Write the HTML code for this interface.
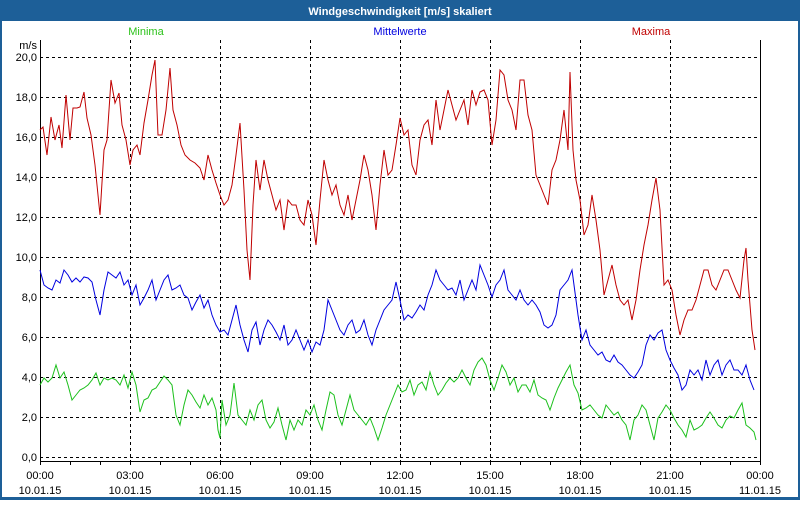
<!DOCTYPE html><html><head><style>body{margin:0;width:800px;height:500px;overflow:hidden;background:#fff;font-family:"Liberation Sans",sans-serif}</style></head><body>
<svg width="800" height="500" xmlns="http://www.w3.org/2000/svg" font-family="Liberation Sans, sans-serif" font-size="11">
<rect x="0" y="0" width="800" height="500" fill="#1d5f98"/>
<rect x="2" y="21" width="796" height="476" fill="#fff"/>
<text x="400" y="15" fill="#fff" font-weight="bold" text-anchor="middle" font-size="11">Windgeschwindigkeit [m/s] skaliert</text>
<g stroke="#000" stroke-dasharray="3,3" stroke-width="1">
<path d="M40 57.5H760M40 97.5H760M40 137.5H760M40 177.5H760M40 217.5H760M40 257.5H760M40 297.5H760M40 337.5H760M40 377.5H760M40 417.5H760M40 457.5H760"/>
<path d="M130.5 40V461M220.5 40V461M310.5 40V461M400.5 40V461M490.5 40V461M580.5 40V461M670.5 40V461"/>
</g>
<path d="M40.5 40V461.5H760.5V40" fill="none" stroke="#000"/>
<path d="M70.5 462v3M100.5 462v3M160.5 462v3M190.5 462v3M250.5 462v3M280.5 462v3M340.5 462v3M370.5 462v3M430.5 462v3M460.5 462v3M520.5 462v3M550.5 462v3M610.5 462v3M640.5 462v3M700.5 462v3M730.5 462v3M40.5 462v3M130.5 462v3M220.5 462v3M310.5 462v3M400.5 462v3M490.5 462v3M580.5 462v3M670.5 462v3M760.5 462v3" stroke="#000"/>
<g text-anchor="end" fill="#000">
<text x="37" y="61">20,0</text><text x="37" y="101">18,0</text><text x="37" y="141">16,0</text><text x="37" y="181">14,0</text><text x="37" y="221">12,0</text><text x="37" y="261">10,0</text><text x="37" y="301">8,0</text><text x="37" y="341">6,0</text><text x="37" y="381">4,0</text><text x="37" y="421">2,0</text><text x="37" y="461">0,0</text>
<text x="37" y="49">m/s</text></g>
<g text-anchor="middle" fill="#000">
<text x="40" y="479">00:00</text><text x="40" y="494">10.01.15</text>
<text x="130" y="479">03:00</text><text x="130" y="494">10.01.15</text>
<text x="220" y="479">06:00</text><text x="220" y="494">10.01.15</text>
<text x="310" y="479">09:00</text><text x="310" y="494">10.01.15</text>
<text x="400" y="479">12:00</text><text x="400" y="494">10.01.15</text>
<text x="490" y="479">15:00</text><text x="490" y="494">10.01.15</text>
<text x="580" y="479">18:00</text><text x="580" y="494">10.01.15</text>
<text x="670" y="479">21:00</text><text x="670" y="494">10.01.15</text>
<text x="760" y="479">00:00</text><text x="760" y="494">11.01.15</text>
</g>
<text x="146" y="35" fill="#2cc21a" text-anchor="middle">Minima</text>
<text x="400" y="35" fill="#0000e0" text-anchor="middle">Mittelwerte</text>
<text x="651" y="35" fill="#c00000" text-anchor="middle">Maxima</text>
<polyline fill="none" stroke="#c00000" points="40,130 43,127 47,155 51,117 55,140 59,125 62,148 66,95 70,140 73,108 77,108 80,107 84,92 87,118 91,135 95,165 100,215 104,150 107,140 111,80 115,103 119,93 122,125 126,140 130,165 133,150 137,145 140,155 144,123 148,100 152,75 155,60 158,135 162,135 166,110 170,68 173,110 177,125 181,145 185,155 190,160 195,163 200,168 204,180 208,155 212,170 216,183 220,195 224,205 228,200 232,185 236,155 240,123 244,190 247,250 250,280 253,205 256,160 260,190 264,160 268,180 272,195 276,210 280,200 284,230 288,200 292,205 296,205 300,220 304,225 308,200 312,215 316,245 320,200 324,160 328,180 332,195 336,185 340,205 344,215 348,195 352,220 356,200 360,180 364,155 368,170 372,195 376,230 380,185 384,150 388,175 392,170 396,145 400,118 404,135 408,130 412,165 416,175 420,140 424,125 428,120 432,145 436,100 440,130 444,110 448,90 452,105 456,120 460,110 464,100 468,125 472,90 476,105 480,92 484,90 488,100 492,145 496,120 500,70 504,75 508,100 512,110 516,130 520,80 524,80 528,115 532,130 536,175 540,185 544,195 548,205 552,170 556,160 560,140 564,110 568,150 570,72 573,150 576,180 580,200 584,235 588,225 592,195 596,220 600,250 604,295 608,280 612,265 616,285 620,300 624,305 628,300 632,320 636,300 640,270 644,245 648,225 652,200 656,178 660,210 664,285 668,280 672,290 676,315 680,335 684,320 688,310 692,310 696,300 700,285 704,270 708,270 712,285 716,290 720,280 724,270 728,270 732,280 736,290 740,298 744,260 746,248 748,280 752,330 755,350"/>
<polyline fill="none" stroke="#0000e0" points="40,270 44,285 48,288 52,290 56,280 60,283 64,270 68,275 72,282 76,278 80,282 84,277 88,278 92,282 96,300 100,315 104,290 108,272 112,275 116,278 120,272 124,285 128,280 132,295 136,285 140,305 144,298 148,290 152,280 156,300 160,290 164,280 168,275 172,290 176,288 180,285 184,295 188,298 192,310 196,302 200,295 204,308 208,300 212,315 216,325 220,332 224,330 228,335 232,320 236,305 240,325 244,340 248,352 252,330 256,322 260,345 264,330 268,320 272,325 276,332 280,340 284,325 288,345 292,340 296,330 300,340 304,350 308,340 312,352 316,342 320,345 324,330 328,300 332,310 336,320 340,330 344,335 348,325 352,320 356,333 360,330 364,320 368,335 372,345 376,330 380,320 384,310 388,305 392,300 396,282 400,300 404,320 408,315 412,318 416,312 420,305 424,310 428,295 432,285 436,270 440,280 444,285 448,290 452,288 456,295 460,280 464,300 468,290 472,280 476,290 480,265 484,275 488,285 492,297 496,285 500,280 504,270 508,290 512,295 516,300 520,290 524,300 528,305 532,300 536,305 540,312 544,325 548,328 552,325 556,315 560,290 564,285 568,280 572,270 574,285 578,315 582,340 586,330 590,345 594,350 598,355 602,352 606,360 610,362 614,355 618,362 622,365 626,370 630,375 634,378 638,372 642,365 646,345 650,335 654,340 658,333 662,330 666,350 670,360 674,368 678,375 682,390 686,385 690,370 694,375 698,370 702,380 706,360 710,375 714,365 718,360 722,375 726,365 730,360 734,370 738,370 742,375 746,365 750,380 754,390"/>
<polyline fill="none" stroke="#1cc01c" points="40,385 44,378 48,382 52,378 56,365 60,378 64,372 68,385 72,400 76,395 80,390 84,388 88,385 92,380 96,373 100,385 104,378 108,380 112,378 116,380 120,385 124,375 128,388 132,372 136,385 140,412 144,400 148,398 152,390 156,388 160,382 164,376 168,380 172,385 176,415 180,425 184,405 188,390 192,395 196,402 200,408 204,395 208,405 212,398 216,410 218,430 220,438 222,400 226,425 230,415 234,383 238,415 242,420 246,425 250,410 254,420 258,405 262,400 266,420 270,428 274,422 278,408 282,425 286,440 290,420 294,430 298,420 302,425 306,410 310,415 314,405 318,420 322,430 326,410 330,392 334,395 338,415 342,425 346,410 350,395 354,410 358,415 362,420 366,425 370,418 374,428 378,440 382,428 386,415 390,405 394,395 398,385 402,392 406,390 410,380 414,395 418,385 422,382 426,390 430,372 434,385 438,395 442,390 446,383 450,378 454,382 458,378 462,370 466,378 470,385 474,370 478,362 482,358 486,365 490,380 494,390 498,378 502,365 506,372 510,385 514,378 518,392 522,385 526,385 530,392 534,380 538,395 542,398 546,400 550,410 554,398 558,388 562,380 566,372 570,365 574,385 578,393 582,410 586,408 590,405 594,410 598,415 602,418 606,405 610,410 614,415 618,412 622,420 626,425 630,440 634,420 638,415 642,405 646,410 650,425 654,440 658,418 662,412 666,405 670,410 674,418 678,425 682,430 686,437 690,420 694,430 698,428 702,425 706,418 710,412 714,418 718,425 722,428 726,420 730,416 734,418 738,410 742,403 746,425 750,428 754,432 756,440"/>
</svg></body></html>
